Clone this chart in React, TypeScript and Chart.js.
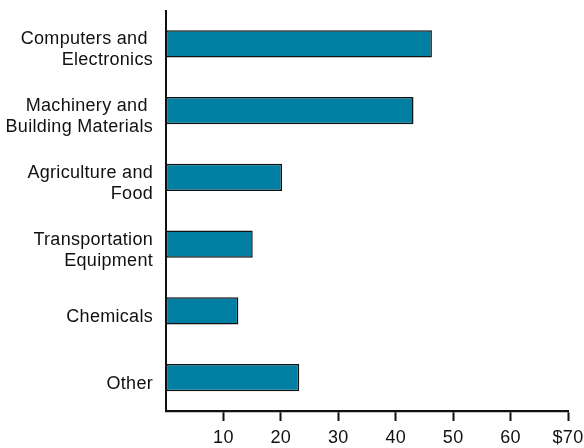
import React, { useEffect, useRef } from "react";
import { Chart, registerables } from "chart.js";

Chart.register(...registerables);

const categories: string[][] = [
  ["Computers and ", "Electronics"],
  ["Machinery and ", "Building Materials"],
  ["Agriculture and", "Food"],
  ["Transportation", "Equipment"],
  ["Chemicals"],
  ["Other"],
];
const values: number[] = [46.3, 43.1, 20.2, 15.1, 12.6, 23.2];
const xTicks: number[] = [10, 20, 30, 40, 50, 60, 70];
const xMax = 70;

const spacingPlugin = {
  id: "letterSpacing",
  beforeUpdate(chart: any) {
    chart.ctx.letterSpacing = "0.3px";
  },
  beforeDraw(chart: any) {
    chart.ctx.letterSpacing = "0.3px";
  },
};

export default function App() {
  const ref = useRef<HTMLCanvasElement | null>(null);
  useEffect(() => {
    if (!ref.current) return;
    const font = { family: "'Liberation Sans', Arial, Helvetica, sans-serif", size: 18, lineHeight: 1.17 };
    const chart = new Chart(ref.current, {
      type: "bar",
      data: {
        labels: categories as any,
        datasets: [
          {
            data: values,
            backgroundColor: "#007fa3",
            borderColor: "#111",
            borderWidth: 1.5,
            borderSkipped: false,
            barPercentage: 1,
            categoryPercentage: 0.41,
          },
        ],
      },
      plugins: [spacingPlugin],
      options: {
        indexAxis: "y",
        animation: false,
        responsive: false,
        devicePixelRatio: 1,
        layout: { padding: { top: 10.5, right: 16, left: 0, bottom: 0 } },
        plugins: { legend: { display: false }, tooltip: { enabled: false } },
        scales: {
          x: {
            type: "linear",
            min: 0,
            max: xMax,
            afterBuildTicks: (scale: any) => {
              scale.ticks = xTicks.map((v) => ({ value: v }));
            },
            afterFit: (scale: any) => {
              scale.height = 37;
              scale.paddingLeft = 0;
              scale.paddingRight = 0;
            },
            ticks: {
              color: "#111",
              font,
              padding: 7,
              maxRotation: 0,
              autoSkip: false,
              callback: (v: any) => (v === xMax ? "$" + v : String(v)),
            },
            grid: {
              drawOnChartArea: false,
              drawTicks: true,
              tickLength: 10,
              tickWidth: 2,
              tickColor: "#111",
            },
            border: { display: true, color: "#111", width: 2.3 },
          },
          y: {
            afterFit: (scale: any) => {
              scale.width = 166;
              scale.paddingTop = 0;
              scale.paddingBottom = 0;
            },
            ticks: { color: "#111", font, padding: 13, autoSkip: false, labelOffset: 6 },
            grid: { drawOnChartArea: false, drawTicks: false },
            border: { display: true, color: "#111", width: 2 },
          },
        },
      },
    } as any);
    return () => chart.destroy();
  }, []);
  return (
    <div style={{ position: "fixed", left: 0, top: 0, width: 584, height: 448, background: "#fff" }}>
      <canvas ref={ref} width={584} height={448} style={{ width: 584, height: 448 }} />
    </div>
  );
}
